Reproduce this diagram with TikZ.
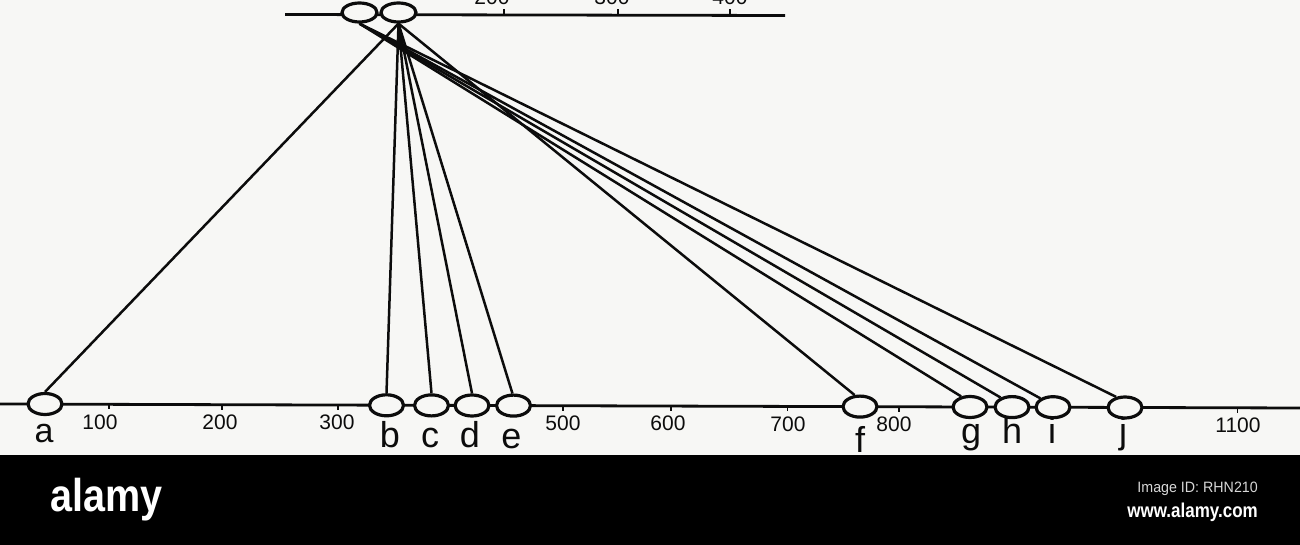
\documentclass[tikz,border=0pt]{standalone}
\usepackage{fontspec}
\setmainfont{Liberation Sans}
\usetikzlibrary{shapes.geometric}
\definecolor{paper}{RGB}{247,247,245}
\definecolor{ink}{RGB}{12,12,12}
\definecolor{wmgray}{RGB}{215,215,215}
\begin{document}
\begin{tikzpicture}[x=1pt,y=-1pt,
  siteoval/.style={ellipse, draw=ink, line width=3.2pt, fill=paper, minimum width=34pt, minimum height=21pt, inner sep=0pt},
  link/.style={draw=ink, line width=2.5pt},
  axisline/.style={draw=ink, line width=2.8pt},
  tickmark/.style={draw=ink, line width=1.8pt},
  ticklab/.style={font=\fontsize{21}{21}\selectfont, anchor=base, inner sep=0pt, text=ink},
  letter/.style={font=\fontsize{36}{36}\selectfont, anchor=base, inner sep=0pt, text=ink},
  wm/.style={inner sep=0pt, text=white},
]
\fill[paper] (0,0) rectangle (1300,455);
\fill[black] (0,455) rectangle (1300,545);
\useasboundingbox (0,0) rectangle (1300,545);

% top axis
\coordinate (tl) at (285,14.5);
\coordinate (tr) at (785,15.5);
\draw[axisline] (tl) -- (tr);
\foreach \x in {504,618,730} \draw[tickmark] (\x,15) -- (\x,9);
\node[ticklab] (t200) at (492,5) {200};
\node[ticklab] (t300) at (612,5) {300};
\node[ticklab] (t400) at (730,5) {400};

% bottom axis
\coordinate (bl) at (0,404);
\coordinate (br) at (1300,408);
\draw[axisline] (bl) -- (br);
\foreach \x/\y in {109/404.3,222/404.7,338/405,563/405.7,671/406.1,787.5/406.4,899/406.8,1237.5/407.8}
  \draw[tickmark] (\x,\y) -- (\x,\y+5);
\node[ticklab] (l100) at (100,429) {100};
\node[ticklab] (l200) at (220,429.3) {200};
\node[ticklab] (l300) at (337,429.7) {300};
\node[ticklab] (l500) at (563,430.5) {500};
\node[ticklab] (l600) at (668,430.8) {600};
\node[ticklab] (l700) at (788,431.2) {700};
\node[ticklab] (l800) at (894,431.6) {800};
\node[ticklab] (l1100) at (1238,432.8) {1100};

% ellipses
\node[siteoval, minimum width=35pt, minimum height=19pt] (topL) at (359.5,12.5) {};
\node[siteoval, minimum width=35pt, minimum height=19pt] (topR) at (398.5,12.5) {};
\node[siteoval] (a) at (45,404) {};
\node[siteoval] (b) at (386.5,405.3) {};
\node[siteoval] (c) at (431.5,405.4) {};
\node[siteoval] (d) at (472,405.5) {};
\node[siteoval] (e) at (513.5,405.6) {};
\node[siteoval] (f) at (860,406.6) {};
\node[siteoval] (g) at (970,407) {};
\node[siteoval] (h) at (1012,407.1) {};
\node[siteoval] (i) at (1053,407.2) {};
\node[siteoval] (j) at (1125,407.5) {};

% connectors
\draw[link] (topR.south) -- (a.north);
\draw[link] (topR.south) -- (b.north);
\draw[link] (topR.south) -- (c.north);
\draw[link] (topR.south) -- (d.north);
\draw[link] (topR.south) -- (e.95);
\draw[link] (topR.south) -- (f.115);
\draw[link] (topL.south) -- (g.130);
\draw[link] (topL.south) -- (h.140);
\draw[link] (topL.south) -- (i.145);
\draw[link] (topL.south) -- (j.130);

% letters
\node[letter, font=\fontsize{34}{34}\selectfont] (la) at (44,442) {a};
\node[letter] (lb) at (390,447) {b};
\node[letter] (lc) at (430,447) {c};
\node[letter] (ld) at (470,447) {d};
\node[letter] (le) at (511.5,448) {e};
\node[letter] (lf) at (860,452) {f};
\node[letter] (lg) at (971,443) {g};
\node[letter] (lh) at (1012,443) {h};
\node[letter] (li) at (1052,443) {i};
\node[letter] (lj) at (1123,443) {j};

% watermark bar
\node[wm, anchor=base west, font=\bfseries\fontsize{46}{46}\selectfont] (logo) at (50,511) {\scalebox{0.86}[1]{alamy}};
\node[wm, anchor=base east, text=wmgray, font=\fontsize{15}{15}\selectfont] (imgid) at (1258,492) {\scalebox{0.95}[1]{Image ID: RHN210}};
\node[wm, anchor=base east, font=\bfseries\fontsize{20}{20}\selectfont] (url) at (1258,517) {\scalebox{0.85}[1]{www.alamy.com}};
\end{tikzpicture}
\end{document}
